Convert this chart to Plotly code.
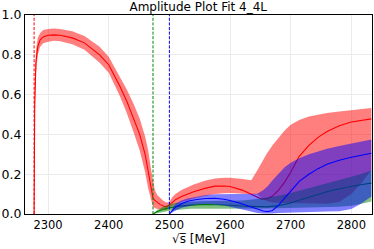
import plotly.graph_objects as go

# ---------------- data ----------------
red_x = [2277, 2278, 2280, 2283, 2287, 2292, 2300, 2310, 2320, 2340, 2360, 2385, 2400, 2418,
         2430, 2440, 2451, 2460, 2465, 2470, 2473, 2476, 2480, 2485, 2490, 2495, 2500, 2505,
         2510, 2520, 2540, 2560, 2575, 2590, 2600, 2620, 2635, 2645, 2652, 2660, 2670, 2680,
         2690, 2700, 2714, 2730, 2745, 2760, 2780, 2800, 2815, 2833]
red_mid = [0, 0.55, 0.76, 0.84, 0.875, 0.89, 0.898, 0.9, 0.898, 0.885, 0.86, 0.8, 0.75, 0.645,
           0.565, 0.49, 0.4, 0.3, 0.22, 0.14, 0.08, 0.068, 0.057, 0.047, 0.04, 0.036, 0.045, 0.06,
           0.072, 0.088, 0.112, 0.13, 0.14, 0.141, 0.138, 0.12, 0.1, 0.085, 0.075, 0.076, 0.09, 0.12,
           0.16, 0.21, 0.29, 0.345, 0.385, 0.415, 0.443, 0.462, 0.471, 0.478]
red_hi = [0, 0.65, 0.82, 0.885, 0.91, 0.925, 0.93, 0.932, 0.93, 0.918, 0.895, 0.84, 0.79, 0.695,
          0.625, 0.56, 0.48, 0.39, 0.32, 0.22, 0.16, 0.12, 0.095, 0.078, 0.066, 0.058, 0.06, 0.085,
          0.1, 0.12, 0.148, 0.168, 0.178, 0.182, 0.182, 0.176, 0.17, 0.22, 0.26, 0.3, 0.345, 0.385,
          0.42, 0.448, 0.472, 0.49, 0.5, 0.507, 0.515, 0.522, 0.527, 0.533]
red_lo = [0, 0.45, 0.7, 0.8, 0.84, 0.858, 0.866, 0.87, 0.868, 0.853, 0.825, 0.76, 0.71, 0.595,
          0.505, 0.42, 0.32, 0.21, 0.13, 0.07, 0.038, 0.03, 0.025, 0.022, 0.02, 0.02, 0.03, 0.04,
          0.048, 0.06, 0.078, 0.092, 0.1, 0.104, 0.105, 0.103, 0.1, 0.098, 0.08, 0.065, 0.058, 0.056,
          0.055, 0.055, 0.054, 0.053, 0.052, 0.052, 0.06, 0.1, 0.15, 0.22]

green_x = [2473, 2476, 2480, 2490, 2500, 2510, 2520, 2535, 2550, 2565, 2580, 2600, 2620, 2640,
           2660, 2680, 2700, 2715, 2730, 2745, 2760, 2780, 2800, 2815, 2833]
green_mid = [0, 0.006, 0.012, 0.024, 0.032, 0.037, 0.041, 0.045, 0.047, 0.048, 0.047, 0.044, 0.04,
             0.037, 0.036, 0.042, 0.055, 0.07, 0.085, 0.1, 0.112, 0.127, 0.139, 0.147, 0.155]
green_hi = [0, 0.01, 0.02, 0.037, 0.048, 0.055, 0.059, 0.062, 0.064, 0.065, 0.066, 0.066, 0.068,
            0.074, 0.082, 0.092, 0.105, 0.117, 0.13, 0.143, 0.155, 0.17, 0.185, 0.2, 0.218]
green_lo = [0, 0.002, 0.004, 0.01, 0.016, 0.02, 0.023, 0.026, 0.027, 0.027, 0.027, 0.026, 0.026,
            0.027, 0.028, 0.029, 0.03, 0.031, 0.032, 0.033, 0.034, 0.036, 0.042, 0.05, 0.063]

blue_x = [2500, 2503, 2507, 2512, 2520, 2530, 2545, 2560, 2575, 2590, 2600, 2615, 2630, 2645,
          2655, 2662, 2670, 2680, 2690, 2700, 2714, 2730, 2745, 2760, 2780, 2800, 2815, 2833]
blue_mid = [0, 0.012, 0.025, 0.038, 0.052, 0.064, 0.073, 0.078, 0.079, 0.074, 0.068, 0.055, 0.04,
            0.024, 0.015, 0.012, 0.018, 0.045, 0.08, 0.12, 0.164, 0.2, 0.228, 0.25, 0.27, 0.285,
            0.295, 0.305]
blue_hi = [0, 0.02, 0.04, 0.055, 0.068, 0.078, 0.088, 0.095, 0.099, 0.1, 0.1, 0.1, 0.1, 0.102,
           0.12, 0.14, 0.17, 0.205, 0.235, 0.258, 0.28, 0.3, 0.315, 0.328, 0.342, 0.355, 0.365, 0.375]
blue_lo = [0, 0.004, 0.01, 0.02, 0.031, 0.04, 0.048, 0.05, 0.048, 0.043, 0.037, 0.026, 0.014,
           0.005, 0.002, 0.002, 0.003, 0.005, 0.007, 0.009, 0.01, 0.011, 0.012, 0.013, 0.014, 0.025,
           0.05, 0.088]

thresholds = [2277, 2473, 2500]
threshold_colors = ["#ff0000", "#008000", "#0000ff"]

x_ticks = [2300, 2400, 2500, 2600, 2700, 2800]
y_ticks = [0.0, 0.2, 0.4, 0.6, 0.8, 1.0]

# ---------------- figure ----------------
fig = go.Figure()

series = [
    (red_x, red_lo, red_mid, red_hi, "rgba(255,0,0,0.5)", "#ff0000"),
    (green_x, green_lo, green_mid, green_hi, "rgba(0,128,0,0.5)", "#008000"),
    (blue_x, blue_lo, blue_mid, blue_hi, "rgba(0,0,255,0.5)", "#0000ff"),
]
for xs, lo, mid, hi, fillc, linec in series:
    fig.add_trace(go.Scatter(
        x=list(xs) + list(xs)[::-1], y=list(hi) + list(lo)[::-1],
        fill="toself", fillcolor=fillc, line=dict(width=0, color=fillc), mode="lines",
        hoverinfo="skip", showlegend=False))
    fig.add_trace(go.Scatter(x=xs, y=mid, mode="lines",
                             line=dict(color=linec, width=1.1), showlegend=False))

for t, c in zip(thresholds, threshold_colors):
    fig.add_trace(go.Scatter(x=[t, t], y=[0, 1], mode="lines",
                             line=dict(color=c, width=1, dash="3px,1.6px"),
                             showlegend=False))

axis_common = dict(showline=True, linecolor="black", linewidth=1, mirror=True,
                   showgrid=True, gridcolor="#ebebeb", gridwidth=1, zeroline=False,
                   ticks="", automargin=False)

fig.update_layout(
    width=374, height=249,
    margin=dict(l=25, r=2, t=15, b=35),
    paper_bgcolor="white", plot_bgcolor="white",
    title=dict(text="Amplitude Plot Fit 4_4L", x=0.53, xanchor="center",
               y=1 - 7 / 249, yanchor="middle", yref="container",
               font=dict(family="DejaVu Sans", size=12, color="black")),
    xaxis=dict(range=[2262, 2834], tickvals=x_ticks,
               tickfont=dict(family="DejaVu Sans", size=11.5, color="black"),
               title=dict(text="√s̅ [MeV]", standoff=3,
                          font=dict(family="DejaVu Sans", size=12, color="black")),
               **axis_common),
    yaxis=dict(range=[0, 1.0], tickvals=y_ticks, tickformat=".1f",
               tickfont=dict(family="DejaVu Sans", size=12.5, color="black"),
               **axis_common),
)

fig.write_html("out.html",
               config={"displayModeBar": False, "displaylogo": False, "staticPlot": True},
               post_script="document.body.style.margin='0';document.body.style.overflow='hidden';")
